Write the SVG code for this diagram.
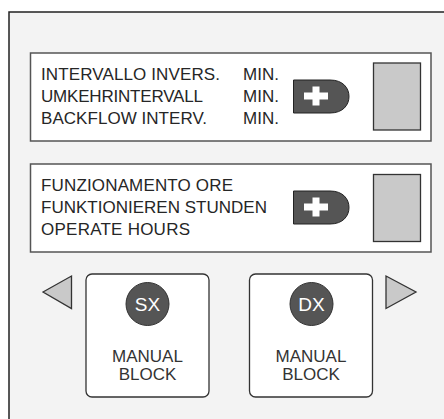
<svg xmlns="http://www.w3.org/2000/svg" width="444" height="419" viewBox="0 0 444 419">
<style>
.lbl{font-family:"Liberation Sans",Arial,sans-serif;font-size:17px;fill:#262626}
.panel{fill:#ffffff;stroke:#555555;stroke-width:1.5}
.disp{fill:#c9c9c9;stroke:#333333;stroke-width:1.3}
.btn{fill:#555555;stroke:#222222;stroke-width:1}
.plus{fill:#ffffff}
.arrow{fill:#c9c9c9;stroke:#333333;stroke-width:1.3;stroke-linejoin:miter}
.key{fill:#ffffff;stroke:#333333;stroke-width:1.3}
.circ{fill:#555555;stroke:#333333;stroke-width:1}
.ctext{font-family:"Liberation Sans",Arial,sans-serif;font-size:19px;fill:#ffffff;text-anchor:middle}
.mtext{font-family:"Liberation Sans",Arial,sans-serif;font-size:17px;fill:#333333;text-anchor:middle}
</style>
<defs>
<g id="plusbtn">
<path class="btn" d="M293.5,80 H330 C343,80 349,88 349,96.5 C349,105 343,113 330,113 H293.5 Z"/>
<rect class="plus" x="304" y="92.5" width="24" height="7"/>
<rect class="plus" x="312.5" y="86.5" width="7" height="19"/>
</g>
</defs>
<rect x="0" y="0" width="444" height="419" fill="#ffffff"/>
<rect id="frame" x="9" y="12" width="450" height="420" fill="#f3f3f3" stroke="#222222" stroke-width="1.5"/>
<g id="panel-interval">
<rect class="panel" x="30.5" y="53" width="400.5" height="88"/>
<text class="lbl" x="41" y="80" textLength="179" lengthAdjust="spacing">INTERVALLO INVERS.</text>
<text class="lbl" x="41" y="102" textLength="162" lengthAdjust="spacing">UMKEHRINTERVALL</text>
<text class="lbl" x="41" y="124" textLength="166" lengthAdjust="spacing">BACKFLOW INTERV.</text>
<text class="lbl" x="243" y="80">MIN.</text>
<text class="lbl" x="243" y="102">MIN.</text>
<text class="lbl" x="243" y="124">MIN.</text>
<use href="#plusbtn"/>
<rect class="disp" x="373.5" y="63" width="47" height="67"/>
</g>
<g id="panel-hours">
<rect class="panel" x="30.5" y="164" width="400.5" height="88"/>
<text class="lbl" x="41" y="191" textLength="192" lengthAdjust="spacing">FUNZIONAMENTO ORE</text>
<text class="lbl" x="41" y="213" textLength="226" lengthAdjust="spacing">FUNKTIONIEREN STUNDEN</text>
<text class="lbl" x="41" y="235" textLength="149" lengthAdjust="spacing">OPERATE HOURS</text>
<use href="#plusbtn" transform="translate(0,111)"/>
<rect class="disp" x="373.5" y="174.5" width="47" height="67"/>
</g>
<g id="arrow-left">
<polygon class="arrow" points="43,292 71.5,276 71.5,308.5"/>
</g>
<g id="arrow-right">
<polygon class="arrow" points="386,276 386,308.5 416,292"/>
</g>
<g id="manual-sx">
<rect class="key" x="86" y="274" width="123" height="123" rx="6"/>
<circle class="circ" cx="147.5" cy="304" r="21.5"/>
<text class="ctext" x="147.5" y="311">SX</text>
<text class="mtext" x="147.5" y="362">MANUAL</text>
<text class="mtext" x="147.5" y="379.5">BLOCK</text>
</g>
<g id="manual-dx">
<rect class="key" x="249.5" y="274" width="123" height="123" rx="6"/>
<circle class="circ" cx="311.5" cy="304" r="21.5"/>
<text class="ctext" x="311.5" y="311">DX</text>
<text class="mtext" x="311" y="362">MANUAL</text>
<text class="mtext" x="311" y="379.5">BLOCK</text>
</g>
</svg>
